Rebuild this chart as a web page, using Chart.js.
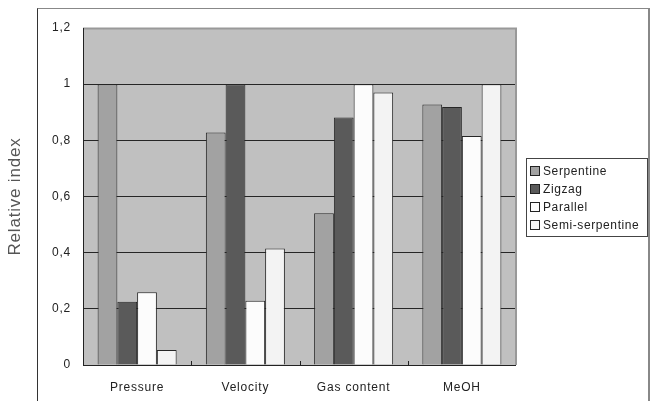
<!DOCTYPE html>
<html>
<head>
<meta charset="utf-8">
<script src="https://cdn.jsdelivr.net/npm/chart.js@4.4.0/dist/chart.umd.min.js"></script>
<style>
  html, body { margin: 0; padding: 0; background: #fff; }
  #wrap { position: relative; width: 654px; height: 401px; overflow: hidden; }
  #frame { position: absolute; left: 37px; top: 8px; width: 610px; height: 420px; border: 1px solid #333; border-right: 2px solid #888; border-top-color: #888; }
  #legend { position: absolute; left: 526px; top: 158px; width: 118px; border: 1px solid #444; padding: 3px 0 2px 2px;
            font-family: "Liberation Sans", Arial, sans-serif; font-size: 12px; letter-spacing: 0.6px; color: #222; }
  #legend div { height: 18px; line-height: 18px; white-space: nowrap; }
  #legend span { display: inline-block; width: 8px; height: 8px; border: 1px solid #222; margin: 0 3px 0 1px; vertical-align: -1px; }
  canvas { position: absolute; left: 0; top: 0; }
</style>
</head>
<body>
<div id="wrap">
  <div id="frame"></div>
  <canvas id="chart" width="654" height="401"></canvas>
  <div id="legend"></div>
</div>
<script>
var categories = ['Pressure', 'Velocity', 'Gas content', 'MeOH'];
var serpentine = [1.0, 0.828, 0.54, 0.928];
var zigzag = [0.225, 1.0, 0.881, 0.919];
var parallel = [0.259, 0.229, 1.0, 0.815];
var semiSerpentine = [0.053, 0.415, 0.97, 1.0];
var seriesNames = ['Serpentine', 'Zigzag', 'Parallel', 'Semi-serpentine'];
var seriesColors = ['#a2a2a2', '#5a5a5a', '#fcfcfc', '#f3f3f3'];
var yTickLabels = ['0', '0,2', '0,4', '0,6', '0,8', '1', '1,2'];

var seriesData = [serpentine, zigzag, parallel, semiSerpentine];
var datasets = seriesData.map(function (d, i) {
    return {
        label: seriesNames[i],
        data: d,
        backgroundColor: seriesColors[i],
        borderColor: '#262626',
        borderWidth: 1,
        borderSkipped: 'bottom',
        barPercentage: 1.0,
        categoryPercentage: 0.73
    };
});

// grey plot area + frame bits
var plotBg = {
    id: 'plotBg',
    beforeDraw: function (chart) {
        var a = chart.chartArea, ctx = chart.ctx;
        ctx.letterSpacing = '0.8px';
        ctx.save();
        ctx.fillStyle = '#c0c0c0';
        ctx.fillRect(a.left, a.top, a.right - a.left, a.bottom - a.top);
        ctx.restore();
    },
    afterDraw: function (chart) {
        var a = chart.chartArea, ctx = chart.ctx, x = chart.scales.x;
        ctx.letterSpacing = '0px';
        ctx.save();
        ctx.strokeStyle = '#999';
        ctx.lineWidth = 2;
        ctx.beginPath();
        ctx.moveTo(a.left, a.top + 0.5);
        ctx.lineTo(a.right, a.top + 0.5);
        ctx.lineTo(a.right, a.bottom);
        ctx.stroke();
        ctx.strokeStyle = '#222';
        ctx.lineWidth = 1;
        ctx.beginPath();
        ctx.moveTo(a.left + 0.5, a.top);
        ctx.lineTo(a.left + 0.5, a.bottom);
        ctx.moveTo(a.left, a.bottom + 0.5);
        ctx.lineTo(a.right, a.bottom + 0.5);
        // small inner ticks between categories
        for (var i = 0; i < categories.length - 1; i++) {
            var px = Math.round((x.getPixelForTick(i) + x.getPixelForTick(i + 1)) / 2) + 0.5;
            ctx.moveTo(px, a.bottom);
            ctx.lineTo(px, a.bottom - 4);
        }
        ctx.stroke();
        ctx.restore();
    }
};

var ctx = document.getElementById('chart').getContext('2d');
var chart = new Chart(ctx, {
    type: 'bar',
    data: { labels: categories, datasets: datasets },
    options: {
        responsive: false,
        animation: false,
        layout: { padding: { left: 0, right: 138, top: 28, bottom: 0 } },
        plugins: { legend: { display: false }, tooltip: { enabled: false } },
        scales: {
            x: {
                grid: { display: false },
                border: { display: false },
                ticks: { color: '#222', padding: 7, font: { family: 'Liberation Sans', size: 12 } },
                afterFit: function (s) { s.height = 36; }
            },
            y: {
                min: 0, max: 1.2,
                ticks: {
                    stepSize: 0.2, color: '#222', padding: 12,
                    font: { family: 'Liberation Sans', size: 12 },
                    callback: function (v, i) { return yTickLabels[i]; }
                },
                grid: { color: '#262626', lineWidth: 1, drawTicks: false },
                border: { display: false },
                title: {
                    display: true, text: 'Relative index', color: '#555',
                    padding: { top: 5, bottom: 0 },
                    font: { family: 'Liberation Sans', size: 17 }
                },
                afterFit: function (s) { s.width = 83; }
            }
        }
    },
    plugins: [plotBg]
});

var legend = document.getElementById('legend');
seriesNames.forEach(function (name, i) {
    var row = document.createElement('div');
    var box = document.createElement('span');
    box.style.background = seriesColors[i];
    row.appendChild(box);
    row.appendChild(document.createTextNode(name));
    legend.appendChild(row);
});
</script>
</body>
</html>
